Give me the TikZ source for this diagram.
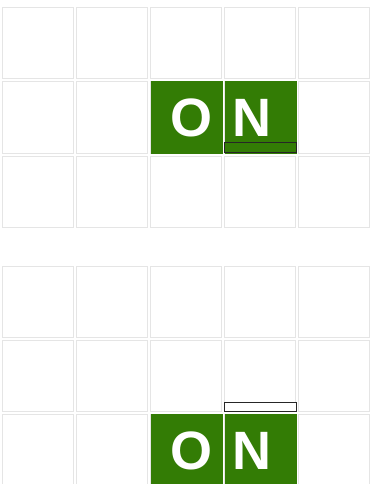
\documentclass[tikz,border=0pt]{standalone}
\usepackage{fontspec}
\setmainfont{Liberation Sans}
\begin{document}
\begin{tikzpicture}[x=1pt,y=-1pt,
  cell/.style={draw=black!10,line width=1pt,fill=white},
  hit/.style={draw=tilegreen,fill=tilegreen,line width=1pt},
  letter/.style={text=white,font=\fontsize{54}{54}\selectfont\bfseries,inner sep=0pt},
  barfull/.style={draw=black!85,fill=tilegreen,line width=1pt},
  barempty/.style={draw=black!85,fill=white,line width=1pt}]
\definecolor{tilegreen}{HTML}{337C05}
\useasboundingbox (0,0) rectangle (374,484);
\clip (0,0) rectangle (374,484);
% top grid
\foreach \r in {0,1,2}{
  \foreach \c in {0,...,4}{
    \path[cell] ({2+74*\c},{8+74*\r}) rectangle +(71,71);
  }
}
\path[hit] (151,82) rectangle +(71,71);
\path[hit] (225,82) rectangle +(71,71);
\node[letter] (o1) at (191,118) {O};
\node[letter] (n1) at (252,118) {N};
\path[barfull] (224.5,142.5) rectangle (296.5,152);
% bottom grid
\foreach \r in {0,1,2}{
  \foreach \c in {0,...,4}{
    \path[cell] ({2+74*\c},{266+74*\r}) rectangle +(71,71);
  }
}
\path[hit] (151,414) rectangle +(71,71);
\path[hit] (225,414) rectangle +(71,71);
\node[letter] (o2) at (191,451) {O};
\node[letter] (n2) at (252,451) {N};
\path[barempty] (224.5,402) rectangle (296.5,411);
\end{tikzpicture}
\end{document}
